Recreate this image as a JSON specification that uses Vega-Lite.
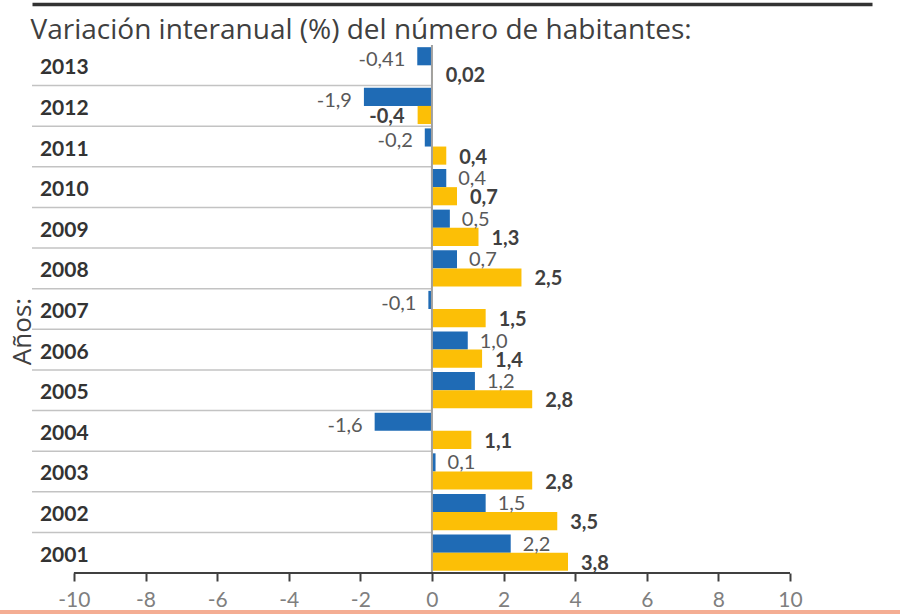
{
  "$schema": "https://vega.github.io/schema/vega-lite/v6.json",
  "width": 840,
  "height": 528,
  "autosize": "none",
  "padding": {"left": 32, "top": 45, "right": 28, "bottom": 41},
  "background": "white",
  "config": {"view": {"stroke": null}, "font": "Lato", "axis": {"grid": false}},
  "data": {
    "values": [
      {"year": "2013", "series": "Serie 1", "value": -0.41, "label": "-0,41"},
      {"year": "2013", "series": "Serie 2", "value": 0.02, "label": "0,02"},
      {"year": "2012", "series": "Serie 1", "value": -1.9, "label": "-1,9"},
      {"year": "2012", "series": "Serie 2", "value": -0.4, "label": "-0,4"},
      {"year": "2011", "series": "Serie 1", "value": -0.2, "label": "-0,2"},
      {"year": "2011", "series": "Serie 2", "value": 0.4, "label": "0,4"},
      {"year": "2010", "series": "Serie 1", "value": 0.4, "label": "0,4"},
      {"year": "2010", "series": "Serie 2", "value": 0.7, "label": "0,7"},
      {"year": "2009", "series": "Serie 1", "value": 0.5, "label": "0,5"},
      {"year": "2009", "series": "Serie 2", "value": 1.3, "label": "1,3"},
      {"year": "2008", "series": "Serie 1", "value": 0.7, "label": "0,7"},
      {"year": "2008", "series": "Serie 2", "value": 2.5, "label": "2,5"},
      {"year": "2007", "series": "Serie 1", "value": -0.1, "label": "-0,1"},
      {"year": "2007", "series": "Serie 2", "value": 1.5, "label": "1,5"},
      {"year": "2006", "series": "Serie 1", "value": 1.0, "label": "1,0"},
      {"year": "2006", "series": "Serie 2", "value": 1.4, "label": "1,4"},
      {"year": "2005", "series": "Serie 1", "value": 1.2, "label": "1,2"},
      {"year": "2005", "series": "Serie 2", "value": 2.8, "label": "2,8"},
      {"year": "2004", "series": "Serie 1", "value": -1.6, "label": "-1,6"},
      {"year": "2004", "series": "Serie 2", "value": 1.1, "label": "1,1"},
      {"year": "2003", "series": "Serie 1", "value": 0.1, "label": "0,1"},
      {"year": "2003", "series": "Serie 2", "value": 2.8, "label": "2,8"},
      {"year": "2002", "series": "Serie 1", "value": 1.5, "label": "1,5"},
      {"year": "2002", "series": "Serie 2", "value": 3.5, "label": "3,5"},
      {"year": "2001", "series": "Serie 1", "value": 2.2, "label": "2,2"},
      {"year": "2001", "series": "Serie 2", "value": 3.8, "label": "3,8"}
    ]
  },
  "layer": [
    {
      "transform": [{"filter": "datum.year != '2013' && datum.series == 'Serie 1'"}],
      "mark": {"type": "rule", "color": "#c3c3c3", "strokeWidth": 1.5},
      "encoding": {
        "y": {"field": "year", "type": "nominal", "sort": "descending", "bandPosition": 0, "axis": null},
        "x": {
          "datum": -11.17, "type": "quantitative",
          "axis": {
            "orient": "top", "offset": 41, "domain": true, "domainColor": "#333333", "domainWidth": 3.5,
            "ticks": false, "labels": false, "grid": false,
            "title": "Variación interanual (%) del número de habitantes:",
            "titleFont": "Open Sans", "titleFontSize": 28, "titleFontWeight": "normal", "titleColor": "#404040",
            "titleAlign": "left", "titleAnchor": "start", "titleBaseline": "alphabetic", "titleX": -2, "titleY": 34
          }
        },
        "x2": {"datum": 0}
      }
    },
    {
      "mark": {"type": "bar"},
      "encoding": {
        "y": {
          "field": "year", "type": "nominal", "sort": "descending",
          "scale": {"paddingInner": 0, "paddingOuter": 0},
          "axis": {
            "title": "Años:", "labels": false, "ticks": false, "domain": false,
            "titleFont": "Open Sans", "titleFontSize": 26, "titleFontWeight": "normal", "titleColor": "#404040",
            "titleAngle": -90, "titleAlign": "center", "titleBaseline": "middle", "titleX": -10, "titleY": 286
          }
        },
        "yOffset": {"field": "series", "type": "nominal", "scale": {"paddingInner": 0, "paddingOuter": 0.12}},
        "x": {
          "field": "value", "type": "quantitative",
          "scale": {"domain": [-11.17, 12.29], "nice": false, "zero": false},
          "axis": {
            "orient": "bottom", "values": [-10, -8, -6, -4, -2, 0, 2, 4, 6, 8, 10],
            "domain": false, "ticks": true, "tickColor": "#404040", "tickWidth": 2, "tickSize": 8,
            "labelFont": "Lato", "labelFontSize": 21, "labelColor": "#7f7f7f", "labelPadding": 8,
            "labelExpr": "'' + datum.value", "title": null
          }
        },
        "x2": {"datum": 0},
        "color": {
          "field": "series", "type": "nominal",
          "scale": {"domain": ["Serie 1", "Serie 2"], "range": ["#1f6bb5", "#fcbf06"]},
          "legend": null
        }
      }
    },
    {
      "transform": [{"filter": "datum.year == '2013' && datum.series == 'Serie 1'"}],
      "mark": {"type": "rule", "color": "#a0a0a0", "strokeWidth": 2},
      "encoding": {"x": {"datum": 0, "type": "quantitative", "axis": null}}
    },
    {
      "transform": [{"filter": "datum.year == '2013' && datum.series == 'Serie 1'"}],
      "mark": {"type": "rule", "color": "#404040", "strokeWidth": 2},
      "encoding": {
        "x": {"datum": -10, "type": "quantitative", "axis": null},
        "x2": {"datum": 10},
        "y": {"value": "height"}
      }
    },
    {
      "transform": [{"filter": "datum.year == '2013' && datum.series == 'Serie 1'"}],
      "mark": {"type": "rule", "color": "#f4ad93", "strokeWidth": 4, "yOffset": 39},
      "encoding": {
        "x": {"datum": -12.1, "type": "quantitative", "axis": null},
        "x2": {"datum": 13.1},
        "y": {"value": "height"}
      }
    },
    {
      "transform": [{"filter": "datum.series == 'Serie 1'"}],
      "mark": {"type": "text", "align": "left", "baseline": "middle", "dy": 3, "font": "Lato", "fontSize": 21, "fontWeight": "bold", "color": "#333333"},
      "encoding": {
        "y": {"field": "year", "type": "nominal", "sort": "descending", "axis": null},
        "x": {"datum": -10.95, "type": "quantitative", "axis": null},
        "text": {"field": "year"}
      }
    },
    {
      "transform": [{"filter": "datum.series == 'Serie 1' && datum.value >= 0"}],
      "mark": {"type": "text", "align": "left", "baseline": "middle", "dx": 12, "dy": 1, "font": "Lato", "fontSize": 20, "color": "#595959"},
      "encoding": {
        "y": {"field": "year", "type": "nominal", "sort": "descending", "axis": null},
        "yOffset": {"field": "series", "type": "nominal"},
        "x": {"field": "value", "type": "quantitative", "axis": null},
        "text": {"field": "label"}
      }
    },
    {
      "transform": [{"filter": "datum.series == 'Serie 1' && datum.value < 0"}],
      "mark": {"type": "text", "align": "right", "baseline": "middle", "dx": -12, "dy": 4, "font": "Lato", "fontSize": 20, "color": "#595959"},
      "encoding": {
        "y": {"field": "year", "type": "nominal", "sort": "descending", "axis": null},
        "yOffset": {"field": "series", "type": "nominal"},
        "x": {"field": "value", "type": "quantitative", "axis": null},
        "text": {"field": "label"}
      }
    },
    {
      "transform": [{"filter": "datum.series == 'Serie 2' && datum.value >= 0"}],
      "mark": {"type": "text", "align": "left", "baseline": "middle", "dx": 13, "dy": 2, "font": "Lato", "fontSize": 20, "fontWeight": "bold", "color": "#404040"},
      "encoding": {
        "y": {"field": "year", "type": "nominal", "sort": "descending", "axis": null},
        "yOffset": {"field": "series", "type": "nominal"},
        "x": {"field": "value", "type": "quantitative", "axis": null},
        "text": {"field": "label"}
      }
    },
    {
      "transform": [{"filter": "datum.series == 'Serie 2' && datum.value < 0"}],
      "mark": {"type": "text", "align": "right", "baseline": "middle", "dx": -13, "dy": 2, "font": "Lato", "fontSize": 20, "fontWeight": "bold", "color": "#404040"},
      "encoding": {
        "y": {"field": "year", "type": "nominal", "sort": "descending", "axis": null},
        "yOffset": {"field": "series", "type": "nominal"},
        "x": {"field": "value", "type": "quantitative", "axis": null},
        "text": {"field": "label"}
      }
    }
  ],
  "resolve": {"axis": {"x": "independent", "y": "independent"}}
}
